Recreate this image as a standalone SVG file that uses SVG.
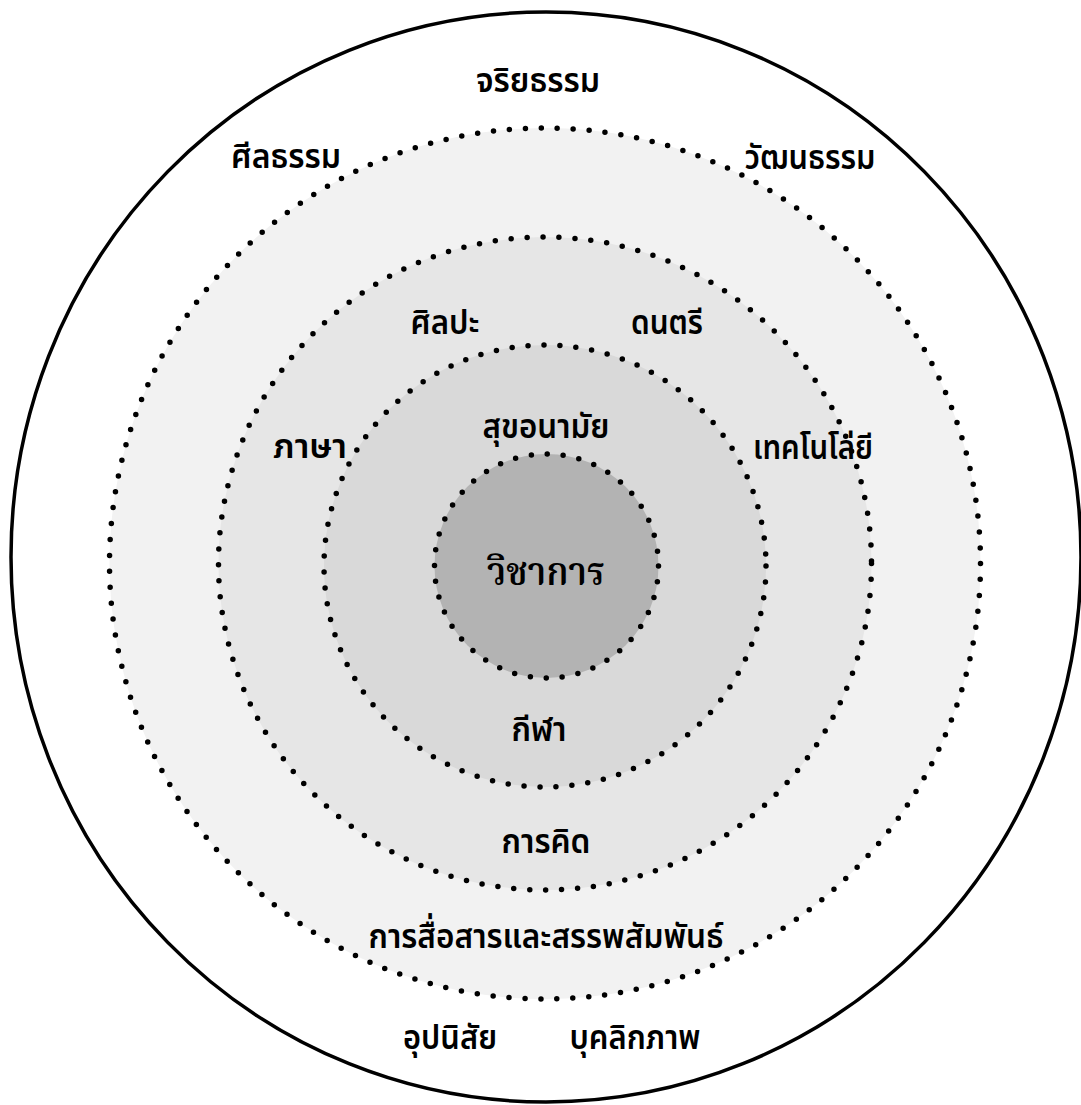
<svg xmlns="http://www.w3.org/2000/svg" width="1081" height="1105" viewBox="0 0 1081 1105">
  <style>
    .ring { stroke: #000; stroke-width: 5.5; stroke-linecap: round; stroke-dasharray: 0 16; }
    .lbl { font-family: "Noto Sans Thai", "Noto Sans", "DejaVu Sans", sans-serif; font-size: 34px; font-weight: 600; fill: #000; text-anchor: middle; }
    .core { font-family: "Noto Serif Thai", "Liberation Serif", serif; font-size: 40px; font-weight: 600; fill: #000; text-anchor: middle; }
  </style>
  <rect width="1081" height="1105" fill="#fff"/>
  <g id="outer">
    <ellipse cx="546" cy="557" rx="535" ry="545" fill="#fff" stroke="#000" stroke-width="3.5"/>
  </g>
  <g id="ring1">
    <circle cx="545" cy="563.5" r="435.5" fill="#f2f2f2" class="ring"/>
  </g>
  <g id="ring2">
    <circle cx="545" cy="563.5" r="326.5" fill="#e6e6e6" class="ring"/>
  </g>
  <g id="ring3">
    <circle cx="545" cy="566" r="221" fill="#d9d9d9" class="ring"/>
  </g>
  <g id="core">
    <circle cx="546.5" cy="566" r="112" fill="#b3b3b3" class="ring"/>
    <text class="core" x="546" y="585" textLength="118" lengthAdjust="spacingAndGlyphs">วิชาการ</text>
  </g>
  <g id="outer-labels">
    <text class="lbl" x="538" y="92" textLength="124" lengthAdjust="spacingAndGlyphs">จริยธรรม</text>
    <text class="lbl" x="286" y="168" textLength="110" lengthAdjust="spacingAndGlyphs">ศีลธรรม</text>
    <text class="lbl" x="810" y="169" textLength="131" lengthAdjust="spacingAndGlyphs">วัฒนธรรม</text>
    <text class="lbl" x="450" y="1049" textLength="94" lengthAdjust="spacingAndGlyphs">อุปนิสัย</text>
    <text class="lbl" x="635" y="1049" textLength="131" lengthAdjust="spacingAndGlyphs">บุคลิกภาพ</text>
  </g>
  <g id="ring1-labels">
    <text class="lbl" x="546" y="948" textLength="355" lengthAdjust="spacingAndGlyphs">การสื่อสารและสรรพสัมพันธ์</text>
    <text class="lbl" x="310" y="458" textLength="74" lengthAdjust="spacingAndGlyphs">ภาษา</text>
    <text class="lbl" x="813" y="459" textLength="120" lengthAdjust="spacingAndGlyphs">เทคโนโล่ยี</text>
  </g>
  <g id="ring2-labels">
    <text class="lbl" x="445" y="334" textLength="69" lengthAdjust="spacingAndGlyphs">ศิลปะ</text>
    <text class="lbl" x="667" y="334" textLength="72" lengthAdjust="spacingAndGlyphs">ดนตรี</text>
    <text class="lbl" x="546" y="853" textLength="89" lengthAdjust="spacingAndGlyphs">การคิด</text>
  </g>
  <g id="ring3-labels">
    <text class="lbl" x="546" y="438" textLength="127" lengthAdjust="spacingAndGlyphs">สุขอนามัย</text>
    <text class="lbl" x="539" y="741" textLength="55" lengthAdjust="spacingAndGlyphs">กีฬา</text>
  </g>
</svg>
